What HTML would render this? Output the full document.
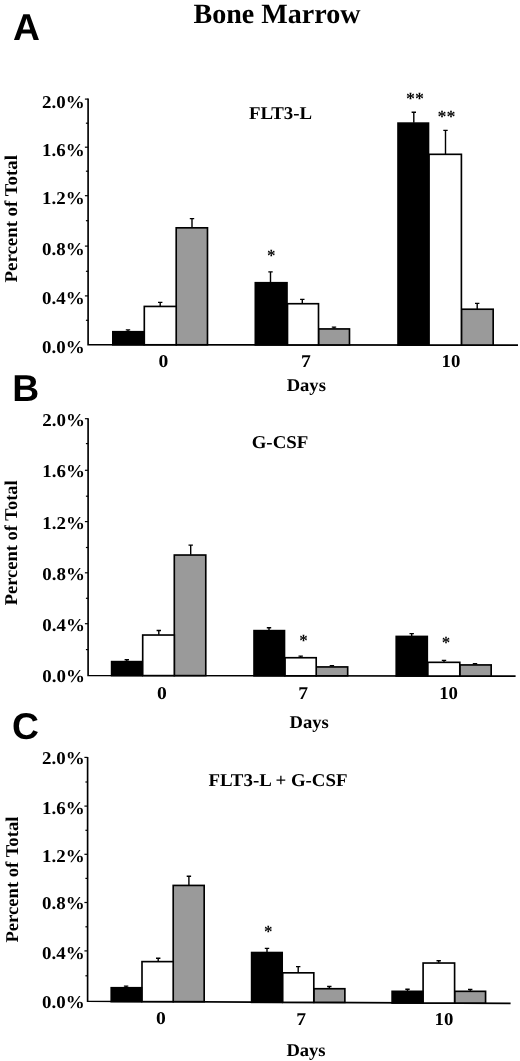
<!DOCTYPE html>
<html><head><meta charset="utf-8"><title>Bone Marrow</title>
<style>
html,body{margin:0;padding:0;background:#fff;}
svg{display:block}
text{fill:#000;text-rendering:geometricPrecision}
.t{font-family:"Liberation Serif",serif;font-weight:bold;font-size:18px}
.s{font-family:"Liberation Serif",serif;font-weight:bold;font-size:17px}
.title{font-family:"Liberation Serif",serif;font-weight:bold;font-size:28px}
.L{font-family:"Liberation Sans",sans-serif;font-weight:bold;font-size:37.3px}
</style></head><body>
<svg width="520" height="1061" viewBox="0 0 520 1061">
<rect width="520" height="1061" fill="#fff"/>
<text x="277" y="23.2" class="title" text-anchor="middle" textLength="167" lengthAdjust="spacingAndGlyphs">Bone Marrow</text>
<text x="13" y="40.2" class="L" text-anchor="start">A</text>
<path d="M88.1 98.6V344.7L518 345.13" stroke="#000" stroke-width="1.65" fill="none"/>
<path d="M88.1 99.1h-3.2" stroke="#000" stroke-width="1.2"/>
<path d="M88.1 123.2h-2.2" stroke="#000" stroke-width="1.2"/>
<path d="M88.1 147.2h-3.2" stroke="#000" stroke-width="1.2"/>
<path d="M88.1 171.2h-2.2" stroke="#000" stroke-width="1.2"/>
<path d="M88.1 195.7h-3.2" stroke="#000" stroke-width="1.2"/>
<path d="M88.1 220.7h-2.2" stroke="#000" stroke-width="1.2"/>
<path d="M88.1 246.1h-3.2" stroke="#000" stroke-width="1.2"/>
<path d="M88.1 271.3h-2.2" stroke="#000" stroke-width="1.2"/>
<path d="M88.1 295.9h-3.2" stroke="#000" stroke-width="1.2"/>
<path d="M88.1 320.3h-2.2" stroke="#000" stroke-width="1.2"/>
<text x="84.7" y="107.6" text-anchor="end" class="t" textLength="42.6" lengthAdjust="spacingAndGlyphs">2.0%</text>
<text x="84.7" y="156.1" text-anchor="end" class="t" textLength="42.6" lengthAdjust="spacingAndGlyphs">1.6%</text>
<text x="84.7" y="204.2" text-anchor="end" class="t" textLength="42.6" lengthAdjust="spacingAndGlyphs">1.2%</text>
<text x="84.7" y="255.3" text-anchor="end" class="t" textLength="42.6" lengthAdjust="spacingAndGlyphs">0.8%</text>
<text x="84.7" y="304.4" text-anchor="end" class="t" textLength="42.6" lengthAdjust="spacingAndGlyphs">0.4%</text>
<text x="84.7" y="352.8" text-anchor="end" class="t" textLength="42.6" lengthAdjust="spacingAndGlyphs">0.0%</text>
<rect x="176.20" y="227.82" width="31.28" height="116.95" fill="#9a9a9a" stroke="#000" stroke-width="1.65"/>
<rect x="144.30" y="306.43" width="31.90" height="38.35" fill="#fff" stroke="#000" stroke-width="1.65"/>
<rect x="112.83" y="331.72" width="30.98" height="13.05" fill="#000" stroke="#000" stroke-width="1.65"/>
<path d="M128.0 331.4V329.8M125.8 329.9h4.4" stroke="#000" stroke-width="1.4" fill="none"/>
<path d="M160.2 306.1V302.3M158.0 302.4h4.4" stroke="#000" stroke-width="1.4" fill="none"/>
<path d="M192.0 227.5V218.5M189.8 218.6h4.4" stroke="#000" stroke-width="1.4" fill="none"/>
<rect x="318.50" y="328.93" width="30.98" height="15.99" fill="#9a9a9a" stroke="#000" stroke-width="1.65"/>
<rect x="287.50" y="303.72" width="31.00" height="41.19" fill="#fff" stroke="#000" stroke-width="1.65"/>
<rect x="255.32" y="282.72" width="31.68" height="62.19" fill="#000" stroke="#000" stroke-width="1.65"/>
<path d="M270.5 282.4V271.8M268.3 271.9h4.4" stroke="#000" stroke-width="1.4" fill="none"/>
<path d="M302.3 303.4V299.3M300.1 299.4h4.4" stroke="#000" stroke-width="1.4" fill="none"/>
<path d="M334.0 328.6V327.0M331.8 327.1h4.4" stroke="#000" stroke-width="1.4" fill="none"/>
<rect x="461.40" y="309.22" width="31.78" height="35.83" fill="#9a9a9a" stroke="#000" stroke-width="1.65"/>
<rect x="429.00" y="154.32" width="32.40" height="190.73" fill="#fff" stroke="#000" stroke-width="1.65"/>
<rect x="398.02" y="123.12" width="30.48" height="221.93" fill="#000" stroke="#000" stroke-width="1.65"/>
<path d="M413.8 122.8V112.1M411.6 112.2h4.4" stroke="#000" stroke-width="1.4" fill="none"/>
<path d="M445.5 154.0V130.3M443.3 130.4h4.4" stroke="#000" stroke-width="1.4" fill="none"/>
<path d="M477.2 308.9V303.3M475.0 303.4h4.4" stroke="#000" stroke-width="1.4" fill="none"/>
<text x="16.6" y="218.8" class="t" text-anchor="middle" textLength="127.4" lengthAdjust="spacingAndGlyphs" transform="rotate(-90 16.6 218.8)">Percent of Total</text>
<text x="280.5" y="118.9" class="t" text-anchor="middle" textLength="63.2" lengthAdjust="spacingAndGlyphs">FLT3-L</text>
<text x="163.3" y="366.8" class="t" text-anchor="middle" textLength="9.8" lengthAdjust="spacingAndGlyphs">0</text>
<text x="305.8" y="367" class="t" text-anchor="middle" textLength="9.8" lengthAdjust="spacingAndGlyphs">7</text>
<text x="451" y="367" class="t" text-anchor="middle" textLength="18.8" lengthAdjust="spacingAndGlyphs">10</text>
<text x="306.3" y="391.2" class="t" text-anchor="middle" textLength="39.2" lengthAdjust="spacingAndGlyphs">Days</text>
<text x="271.2" y="260.9" class="s" text-anchor="middle">*</text>
<text x="415" y="103.6" class="s" text-anchor="middle" textLength="18" lengthAdjust="spacingAndGlyphs">**</text>
<text x="446.6" y="122.2" class="s" text-anchor="middle" textLength="18" lengthAdjust="spacingAndGlyphs">**</text>
<text x="12.3" y="401" class="L" text-anchor="start">B</text>
<path d="M88.1 418.2V675.5L515.6 676.14" stroke="#000" stroke-width="1.65" fill="none"/>
<path d="M88.1 418.7h-3.2" stroke="#000" stroke-width="1.2"/>
<path d="M88.1 443.6h-2.2" stroke="#000" stroke-width="1.2"/>
<path d="M88.1 470.3h-3.2" stroke="#000" stroke-width="1.2"/>
<path d="M88.1 496.2h-2.2" stroke="#000" stroke-width="1.2"/>
<path d="M88.1 521.6h-3.2" stroke="#000" stroke-width="1.2"/>
<path d="M88.1 547.5h-2.2" stroke="#000" stroke-width="1.2"/>
<path d="M88.1 572.8h-3.2" stroke="#000" stroke-width="1.2"/>
<path d="M88.1 598.3h-2.2" stroke="#000" stroke-width="1.2"/>
<path d="M88.1 623.7h-3.2" stroke="#000" stroke-width="1.2"/>
<path d="M88.1 649.6h-2.2" stroke="#000" stroke-width="1.2"/>
<text x="84.9" y="425.5" text-anchor="end" class="t" textLength="42.6" lengthAdjust="spacingAndGlyphs">2.0%</text>
<text x="84.9" y="477.4" text-anchor="end" class="t" textLength="42.6" lengthAdjust="spacingAndGlyphs">1.6%</text>
<text x="84.9" y="529.0" text-anchor="end" class="t" textLength="42.6" lengthAdjust="spacingAndGlyphs">1.2%</text>
<text x="84.9" y="579.9" text-anchor="end" class="t" textLength="42.6" lengthAdjust="spacingAndGlyphs">0.8%</text>
<text x="84.9" y="630.8" text-anchor="end" class="t" textLength="42.6" lengthAdjust="spacingAndGlyphs">0.4%</text>
<text x="84.9" y="682.4" text-anchor="end" class="t" textLength="42.6" lengthAdjust="spacingAndGlyphs">0.0%</text>
<rect x="174.30" y="555.03" width="31.47" height="120.58" fill="#9a9a9a" stroke="#000" stroke-width="1.65"/>
<rect x="142.70" y="635.03" width="31.60" height="40.58" fill="#fff" stroke="#000" stroke-width="1.65"/>
<rect x="111.62" y="661.62" width="30.57" height="13.98" fill="#000" stroke="#000" stroke-width="1.65"/>
<path d="M126.8 661.3V659.7M124.6 659.8h4.4" stroke="#000" stroke-width="1.4" fill="none"/>
<path d="M158.8 634.7V630.4M156.6 630.5h4.4" stroke="#000" stroke-width="1.4" fill="none"/>
<path d="M190.7 554.7V545.0M188.5 545.1h4.4" stroke="#000" stroke-width="1.4" fill="none"/>
<rect x="316.20" y="666.93" width="31.48" height="8.89" fill="#9a9a9a" stroke="#000" stroke-width="1.65"/>
<rect x="285.00" y="657.73" width="31.20" height="18.09" fill="#fff" stroke="#000" stroke-width="1.65"/>
<rect x="254.02" y="630.62" width="30.48" height="45.19" fill="#000" stroke="#000" stroke-width="1.65"/>
<path d="M269.0 630.3V627.6M266.8 627.7h4.4" stroke="#000" stroke-width="1.4" fill="none"/>
<path d="M300.7 657.4V656.0M298.5 656.1h4.4" stroke="#000" stroke-width="1.4" fill="none"/>
<path d="M331.9 666.6V665.5M329.7 665.6h4.4" stroke="#000" stroke-width="1.4" fill="none"/>
<rect x="459.80" y="664.93" width="31.38" height="11.11" fill="#9a9a9a" stroke="#000" stroke-width="1.65"/>
<rect x="427.80" y="662.33" width="32.00" height="13.71" fill="#fff" stroke="#000" stroke-width="1.65"/>
<rect x="396.22" y="636.43" width="31.08" height="39.61" fill="#000" stroke="#000" stroke-width="1.65"/>
<path d="M411.7 636.1V633.5M409.5 633.6h4.4" stroke="#000" stroke-width="1.4" fill="none"/>
<path d="M444.0 662.0V660.3M441.8 660.4h4.4" stroke="#000" stroke-width="1.4" fill="none"/>
<path d="M475.0 664.6V663.6M472.8 663.7h4.4" stroke="#000" stroke-width="1.4" fill="none"/>
<text x="16.9" y="542.8" class="t" text-anchor="middle" textLength="125" lengthAdjust="spacingAndGlyphs" transform="rotate(-90 16.9 542.8)">Percent of Total</text>
<text x="280" y="447.6" class="t" text-anchor="middle" textLength="56.6" lengthAdjust="spacingAndGlyphs">G-CSF</text>
<text x="161.8" y="699.1" class="t" text-anchor="middle" textLength="9.8" lengthAdjust="spacingAndGlyphs">0</text>
<text x="303.2" y="699.3" class="t" text-anchor="middle" textLength="9.8" lengthAdjust="spacingAndGlyphs">7</text>
<text x="448.6" y="699.4" class="t" text-anchor="middle" textLength="18.8" lengthAdjust="spacingAndGlyphs">10</text>
<text x="309.1" y="728.2" class="t" text-anchor="middle" textLength="39.2" lengthAdjust="spacingAndGlyphs">Days</text>
<text x="303.5" y="646.0" class="s" text-anchor="middle">*</text>
<text x="446" y="648.0" class="s" text-anchor="middle">*</text>
<text x="12" y="739" class="L" text-anchor="start">C</text>
<path d="M87.6 756.9V1001.3L510.6 1003.41" stroke="#000" stroke-width="1.65" fill="none"/>
<path d="M87.6 757.4h-3.2" stroke="#000" stroke-width="1.2"/>
<path d="M87.6 782.0h-2.2" stroke="#000" stroke-width="1.2"/>
<path d="M87.6 806.1h-3.2" stroke="#000" stroke-width="1.2"/>
<path d="M87.6 830.3h-2.2" stroke="#000" stroke-width="1.2"/>
<path d="M87.6 854.3h-3.2" stroke="#000" stroke-width="1.2"/>
<path d="M87.6 878.4h-2.2" stroke="#000" stroke-width="1.2"/>
<path d="M87.6 902.5h-3.2" stroke="#000" stroke-width="1.2"/>
<path d="M87.6 926.8h-2.2" stroke="#000" stroke-width="1.2"/>
<path d="M87.6 950.9h-3.2" stroke="#000" stroke-width="1.2"/>
<path d="M87.6 975.8h-2.2" stroke="#000" stroke-width="1.2"/>
<text x="84.6" y="764.1" text-anchor="end" class="t" textLength="42.6" lengthAdjust="spacingAndGlyphs">2.0%</text>
<text x="84.6" y="813.9" text-anchor="end" class="t" textLength="42.6" lengthAdjust="spacingAndGlyphs">1.6%</text>
<text x="84.6" y="861.6" text-anchor="end" class="t" textLength="42.6" lengthAdjust="spacingAndGlyphs">1.2%</text>
<text x="84.6" y="908.9" text-anchor="end" class="t" textLength="42.6" lengthAdjust="spacingAndGlyphs">0.8%</text>
<text x="84.6" y="958.8" text-anchor="end" class="t" textLength="42.6" lengthAdjust="spacingAndGlyphs">0.4%</text>
<text x="84.6" y="1007.8" text-anchor="end" class="t" textLength="42.6" lengthAdjust="spacingAndGlyphs">0.0%</text>
<rect x="173.20" y="885.43" width="30.98" height="116.22" fill="#9a9a9a" stroke="#000" stroke-width="1.65"/>
<rect x="142.00" y="961.62" width="31.20" height="40.02" fill="#fff" stroke="#000" stroke-width="1.65"/>
<rect x="111.23" y="987.73" width="30.27" height="13.92" fill="#000" stroke="#000" stroke-width="1.65"/>
<path d="M126.1 987.4V986.0M123.9 986.1h4.4" stroke="#000" stroke-width="1.4" fill="none"/>
<path d="M158.2 961.3V958.1M156.0 958.2h4.4" stroke="#000" stroke-width="1.4" fill="none"/>
<path d="M188.9 885.1V876.1M186.7 876.2h4.4" stroke="#000" stroke-width="1.4" fill="none"/>
<rect x="313.80" y="988.73" width="31.07" height="13.63" fill="#9a9a9a" stroke="#000" stroke-width="1.65"/>
<rect x="282.70" y="972.83" width="31.10" height="29.53" fill="#fff" stroke="#000" stroke-width="1.65"/>
<rect x="251.62" y="952.53" width="30.57" height="49.83" fill="#000" stroke="#000" stroke-width="1.65"/>
<path d="M267.0 952.2V948.3M264.8 948.4h4.4" stroke="#000" stroke-width="1.4" fill="none"/>
<path d="M298.2 972.5V966.5M296.0 966.6h4.4" stroke="#000" stroke-width="1.4" fill="none"/>
<path d="M329.3 988.4V986.4M327.1 986.5h4.4" stroke="#000" stroke-width="1.4" fill="none"/>
<rect x="454.60" y="991.33" width="30.97" height="11.73" fill="#9a9a9a" stroke="#000" stroke-width="1.65"/>
<rect x="423.10" y="963.03" width="31.50" height="40.03" fill="#fff" stroke="#000" stroke-width="1.65"/>
<rect x="392.12" y="991.33" width="30.48" height="11.73" fill="#000" stroke="#000" stroke-width="1.65"/>
<path d="M407.5 991.0V989.2M405.3 989.3h4.4" stroke="#000" stroke-width="1.4" fill="none"/>
<path d="M438.7 962.7V960.6M436.5 960.7h4.4" stroke="#000" stroke-width="1.4" fill="none"/>
<path d="M470.2 991.0V989.4M468.0 989.5h4.4" stroke="#000" stroke-width="1.4" fill="none"/>
<text x="17.6" y="879.6" class="t" text-anchor="middle" textLength="126" lengthAdjust="spacingAndGlyphs" transform="rotate(-90 17.6 879.6)">Percent of Total</text>
<text x="278" y="786.2" class="t" text-anchor="middle" textLength="139" lengthAdjust="spacingAndGlyphs">FLT3-L + G-CSF</text>
<text x="161" y="1023.5" class="t" text-anchor="middle" textLength="9.8" lengthAdjust="spacingAndGlyphs">0</text>
<text x="301.2" y="1024.6" class="t" text-anchor="middle" textLength="9.8" lengthAdjust="spacingAndGlyphs">7</text>
<text x="444" y="1024.9" class="t" text-anchor="middle" textLength="18.8" lengthAdjust="spacingAndGlyphs">10</text>
<text x="306" y="1055.6" class="t" text-anchor="middle" textLength="39.2" lengthAdjust="spacingAndGlyphs">Days</text>
<text x="268.2" y="937.0" class="s" text-anchor="middle">*</text>
</svg>
</body></html>
